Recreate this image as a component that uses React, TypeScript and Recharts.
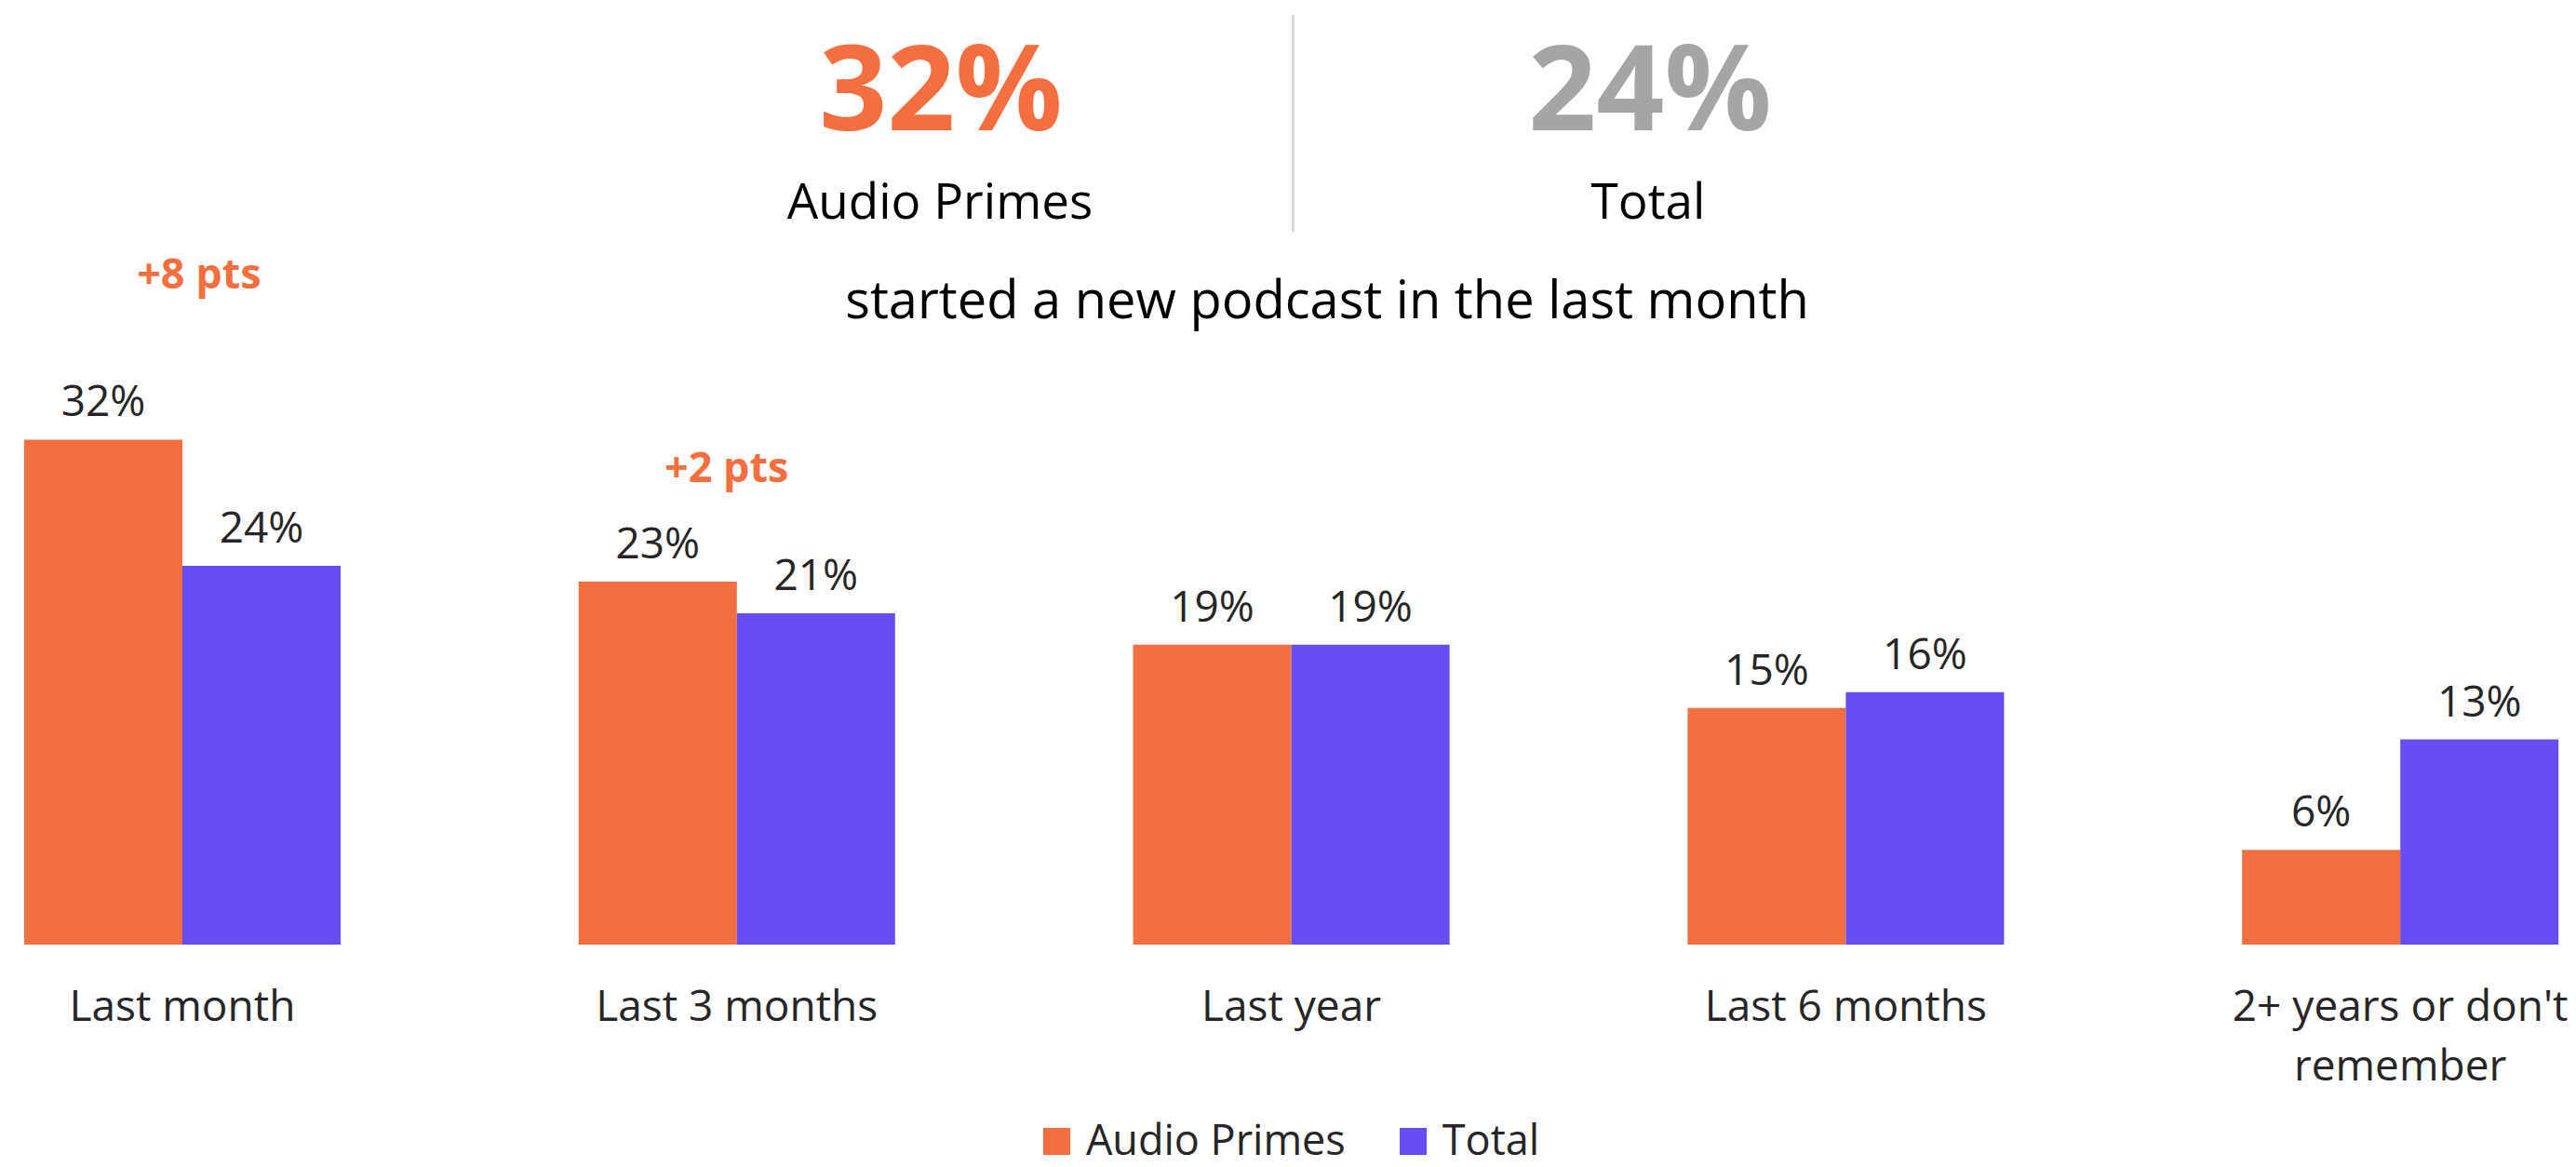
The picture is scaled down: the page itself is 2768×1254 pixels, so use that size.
import React from 'react';
import { BarChart, Bar, XAxis, YAxis, LabelList, Legend, ReferenceDot } from 'recharts';

// ---- data ----
const categories = ["Last month", "Last 3 months", "Last year", "Last 6 months", "2+ years or don't remember"];
const tickLines = [["Last month"], ["Last 3 months"], ["Last year"], ["Last 6 months"], ["2+ years or don't", "remember"]];
const audioPrimes = [32, 23, 19, 15, 6];
const totalValues = [24, 21, 19, 16, 13];
const seriesNames = ["Audio Primes", "Total"];
const annotationCategories = ["Last month", "Last 3 months"];
const annotationTexts = ["+8 pts", "+2 pts"];
const annotationLevels = [41.6, 29.3];
const subtitle = "started a new podcast in the last month";

// ---- styles ----
const FONT = '"Open Sans", "Noto Sans", sans-serif';
const ORANGE = '#F36F3F';
const PURPLE = '#654DF2';
const GRAY = '#A5A5A5';
const TEXT = '#262626';
const annotationShift = [18, -11];

const data = categories.map((c, i) => ({ category: c, audio: audioPrimes[i], total: totalValues[i] }));

const CategoryTick = (props: any) => {
  const { x, y, index } = props;
  const lines = tickLines[index] || [String(props.payload?.value ?? '')];
  return (
    <text x={x} y={y} textAnchor="middle" fill={TEXT} fontSize={46} fontFamily={FONT}>
      {lines.map((l: string, i: number) => (
        <tspan key={i} x={x} dy={i === 0 ? 33 : 64}>{l}</tspan>
      ))}
    </text>
  );
};

const LegendContent = (props: any) => {
  const payload = props.payload || [];
  return (
    <div style={{ display: 'flex', justifyContent: 'center', alignItems: 'center', fontFamily: FONT, fontSize: 45, lineHeight: 'normal', color: TEXT }}>
      {payload.map((p: any, i: number) => (
        <div key={p.value} style={{ display: 'flex', alignItems: 'center', marginLeft: i === 0 ? 0 : 58 }}>
          <span style={{ display: 'inline-block', width: 29, height: 29, background: p.color, marginRight: 17, marginTop: 6 }} />
          <span>{p.value}</span>
        </div>
      ))}
    </div>
  );
};

const HeadText = ({ cx, top, size, color, weight, children }: any) => (
  <div
    style={{
      position: 'absolute',
      left: cx - 700,
      width: 1400,
      top,
      textAlign: 'center',
      fontFamily: FONT,
      fontSize: size,
      fontWeight: weight || 400,
      lineHeight: 1,
      color,
      whiteSpace: 'nowrap',
    }}
  >
    {children}
  </div>
);

export default function App() {
  return (
    <div style={{ position: 'absolute', left: 0, top: 0, width: 2768, height: 1254, overflow: 'hidden', background: '#fff' }}>
      <div style={{ position: 'absolute', left: -102, top: 0 }}>
        <BarChart
          width={2979}
          height={1254}
          data={data}
          margin={{ top: 252, right: 0, bottom: 0, left: 0 }}
          barGap={0}
        >
          <XAxis
            dataKey="category"
            axisLine={false}
            tickLine={false}
            tickSize={0}
            tickMargin={49}
            height={178}
            interval={0}
            tick={<CategoryTick />}
          />
          <YAxis hide domain={[0, 45]} />
          <Legend verticalAlign="bottom" content={<LegendContent />} />
          <Bar dataKey="audio" name={seriesNames[0]} fill={ORANGE} barSize={170} isAnimationActive={false}>
            <LabelList dataKey="audio" position="top" offset={25} formatter={(v: any) => `${v}%`} fill={TEXT} fontSize={46} fontFamily={FONT} />
          </Bar>
          <Bar dataKey="total" name={seriesNames[1]} fill={PURPLE} barSize={170} isAnimationActive={false}>
            <LabelList dataKey="total" position="top" offset={25} formatter={(v: any) => `${v}%`} fill={TEXT} fontSize={46} fontFamily={FONT} />
          </Bar>
          {annotationCategories.map((c, i) => (
            <ReferenceDot
              key={c}
              x={c}
              y={annotationLevels[i]}
              r={0}
              ifOverflow="visible"
              shape={(p: any) => (
                <text x={p.cx + annotationShift[i]} y={p.cy} textAnchor="middle" fill={ORANGE} fontSize={45} fontWeight={700} fontFamily={FONT}>
                  {annotationTexts[i]}
                </text>
              )}
            />
          ))}
        </BarChart>
      </div>
      <HeadText cx={1011} top={27} size={128} weight={700} color={ORANGE}>{`${audioPrimes[0]}%`}</HeadText>
      <HeadText cx={1773} top={27} size={128} weight={700} color={GRAY}>{`${totalValues[0]}%`}</HeadText>
      <HeadText cx={1010} top={188} size={53} color="#000">{seriesNames[0]}</HeadText>
      <HeadText cx={1771} top={188} size={53} color="#000">{seriesNames[1]}</HeadText>
      <div style={{ position: 'absolute', left: 1388, top: 16, width: 3, height: 233, background: '#D9D9D9' }} />
      <HeadText cx={1426} top={292} size={56} color="#000">{subtitle}</HeadText>
    </div>
  );
}
